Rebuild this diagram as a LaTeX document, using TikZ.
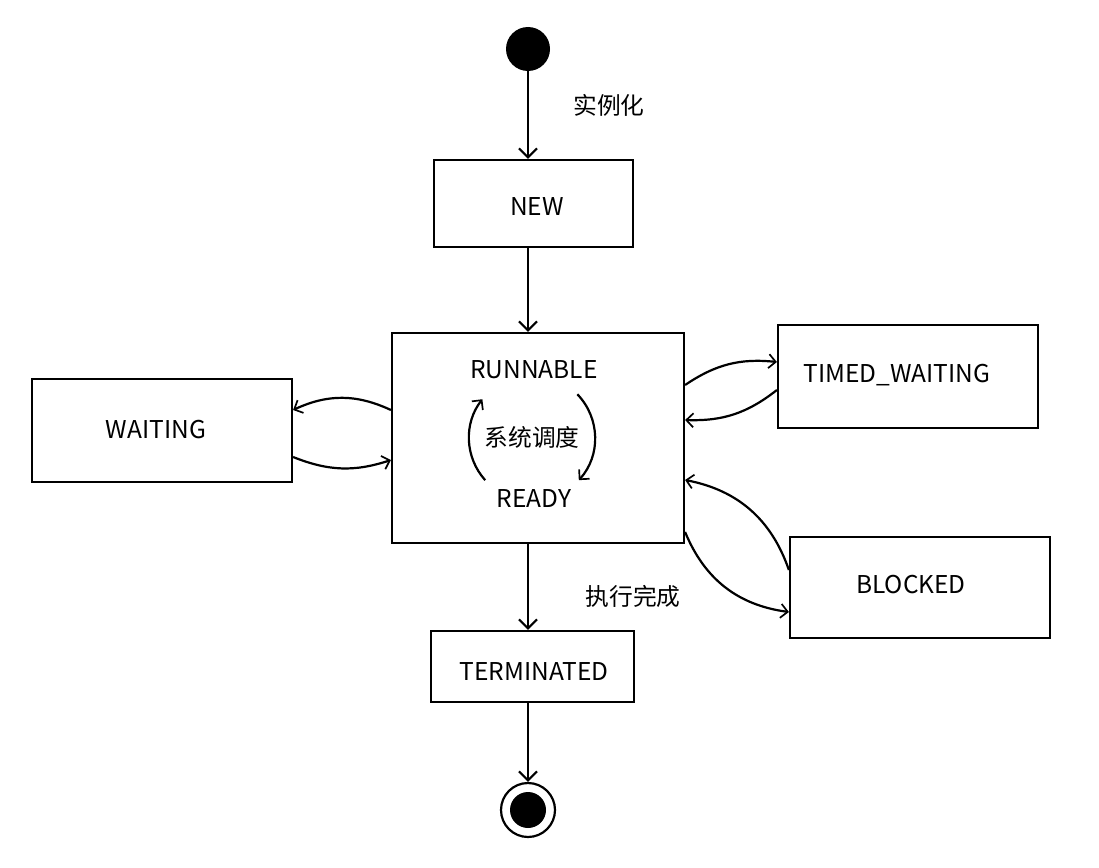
\documentclass[tikz,border=0pt]{standalone}
\usepackage{fontspec}
\setmainfont{Noto Sans CJK SC}
\usetikzlibrary{arrows.meta}
\begin{document}
\begin{tikzpicture}[x=1pt,y=1pt,
  font=\fontsize{24.5}{28}\selectfont,
  state/.style={draw,line width=2.2pt,inner sep=0pt},
  conn/.style={line width=2.2pt,-{Straight Barb[length=9pt,width=18pt,line width=2.2pt]}},
  thin conn/.style={line width=2.2pt,-{Straight Barb[length=7pt,width=14pt,line width=1.7pt]}},
  lbl/.style={inner sep=0pt},
  cjk/.style={inner sep=0pt,font=\fontsize{23.75}{28}\selectfont}]
\useasboundingbox (0,0) rectangle (1099,-867);
% start / end
\node[circle,fill=black,minimum size=44pt,inner sep=0pt] (start) at (528,-49) {};
\node[circle,draw,line width=2.2pt,minimum size=54pt,inner sep=0pt] (endo) at (528,-810) {};
\node[circle,fill=black,minimum size=36pt,inner sep=0pt] (endi) at (528,-810) {};
% states
\node[state,minimum width=199pt,minimum height=87pt] (new) at (533.5,-203.5) {};
\node[lbl] at (537,-207) {NEW};
\node[state,minimum width=292pt,minimum height=210pt] (run) at (538,-438) {};
\node[lbl] (runl) at (534,-370) {RUNNABLE};
\node[lbl] (ready) at (534,-499) {READY};
\node[cjk] (sched) at (532,-437) {系统调度};
\node[state,minimum width=260pt,minimum height=103pt] (wait) at (162,-430.5) {};
\node[lbl] at (156,-430) {WAITING};
\node[state,minimum width=260pt,minimum height=103pt] (timed) at (908,-376.5) {};
\node[lbl] at (897,-375) {TIMED\_WAITING};
\node[state,minimum width=260pt,minimum height=101pt] (blocked) at (920,-587.5) {};
\node[lbl] at (911,-585) {BLOCKED};
\node[state,minimum width=203pt,minimum height=71pt] (term) at (532.5,-666.5) {};
\node[lbl] at (534,-672) {TERMINATED};
% labels
\node[cjk] (l1) at (609,-105) {实例化};
\node[cjk] (l2) at (633,-596) {执行完成};
% vertical connectors
\draw[conn] (start) -- (start |- new.north);
\draw[conn] (new.south -| start) -- (run.north -| start);
\draw[conn] (run.south -| start) -- (term.north -| start);
\draw[conn] (term.south -| start) -- (endo.north);
% waiting
\draw[thin conn] ([yshift=28pt]run.west) to[bend right=25] ([yshift=20.5pt]wait.east);
\draw[thin conn] ([yshift=-26.5pt]wait.east) to[bend right=20] ([yshift=-22pt]run.west);
% timed waiting
\draw[thin conn] ([yshift=53pt]run.east) to[bend left=20] ([yshift=14.5pt]timed.west);
\draw[thin conn] ([yshift=-13.5pt]timed.west) to[bend left=20] ([yshift=18pt]run.east);
% blocked
\draw[thin conn] ([yshift=17.5pt]blocked.west) to[bend right=30] ([yshift=-42pt]run.east);
\draw[thin conn] ([yshift=-94pt]run.east) to[bend right=30] ([yshift=-24.5pt]blocked.west);
% inner cycle
\coordinate (cc) at (532,-438);
\draw[thin conn] ([shift={(222:63pt)}]cc) arc[start angle=222,end angle=142,radius=63pt];
\draw[thin conn] ([shift={(44:63pt)}]cc) arc[start angle=44,end angle=-42,radius=63pt];
\end{tikzpicture}
\end{document}
